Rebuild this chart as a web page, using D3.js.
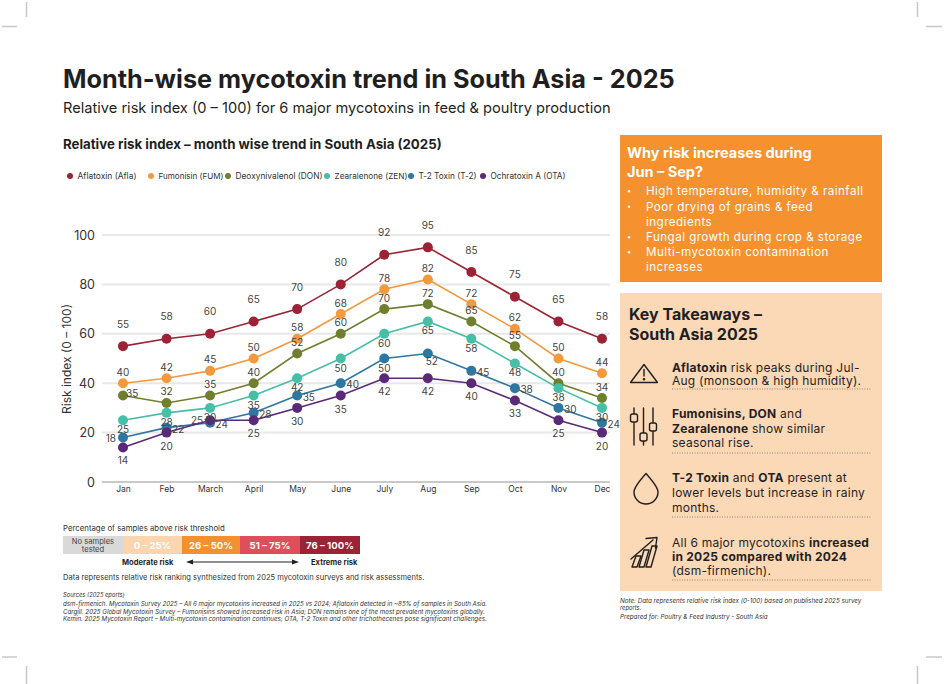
<!DOCTYPE html>
<html><head><meta charset="utf-8">
<script src="https://cdn.jsdelivr.net/npm/d3@7"></script>
<style>
body{margin:0;background:#fff}
svg{display:block}
text{font-family:Inter,"Noto Sans",sans-serif}
</style>
</head><body>
<svg id="c" width="944" height="684"></svg>
<script>
// ---------------- DATA ----------------
const months = ["Jan","Feb","March","April","May","June","July","Aug","Sep","Oct","Nov","Dec"];
const seriesNames = ["Aflatoxin (Afla)","Fumonisin (FUM)","Deoxynivalenol (DON)","Zearalenone (ZEN)","T-2 Toxin (T-2)","Ochratoxin A (OTA)"];
const afla = [55,58,60,65,70,80,92,95,85,75,65,58];
const fum  = [40,42,45,50,58,68,78,82,72,62,50,44];
const don  = [35,32,35,40,52,60,70,72,65,55,40,34];
const zen  = [25,28,30,35,42,50,60,65,58,48,38,30];
const t2   = [18,22,24,28,35,40,50,52,45,38,30,24];
const ota  = [14,20,25,25,30,35,42,42,40,33,25,20];
const yTicks = [0,20,40,60,80,100];
const bandLabels = ["No samples tested","0 – 25%","26 – 50%","51 – 75%","76 – 100%"];

// ---------------- STYLE / LAYOUT ----------------
const seriesValues = [afla,fum,don,zen,t2,ota];
const seriesColors = ["#9b2335","#f39a3e","#6f7f2e","#45bfa6","#2f76a0","#5a2a78"];
const bandColors = ["#d9d9d9","#fbd5b0","#f5902f","#dc4f5b","#9b2335"];
const defaultLabelPos = ["above2","above","above","below","right","below2"];
const labelOverrides = {"2-0":"rightTight","4-0":"left","5-2":"left","4-6":"below","4-7":"belowRight"};
const legendX = [70,151,228,327,411,483];
const legendW = [59,65,87,73,58,75];

const svg = d3.select("#c");
const dark = "#1f1f1f";

function fit(sel, w){
  const n = sel.node(); const fs = parseFloat(sel.attr("font-size"));
  const len = n.getComputedTextLength();
  if(len>0) sel.attr("font-size", fs*w/len);
  return sel;
}
function fitLS(sel, w){
  const n = sel.node();
  const len = n.getComputedTextLength();
  const chars = sel.text().length;
  const ls = (w-len)/Math.max(1,chars-1);
  sel.attr("letter-spacing", ls);
  return ls;
}

// crop marks
const cm = svg.append("g").attr("stroke","#c8c8c8").attr("stroke-width",1.5);
[[26.5,2,26.5,17],[2,26.5,17,26.5],[917.5,2,917.5,17],[926,26.5,942,26.5],
 [2,657,17,657],[26.5,666,26.5,684],[926,657,942,657],[917.5,666,917.5,684]].forEach(d=>{
  cm.append("line").attr("x1",d[0]).attr("y1",d[1]).attr("x2",d[2]).attr("y2",d[3]);
});

// titles
fit(svg.append("text").attr("x",63).attr("y",88).attr("font-size",25).attr("font-weight",700).attr("fill",dark)
  .text("Month-wise mycotoxin trend in South Asia - 2025"), 612);
fit(svg.append("text").attr("x",63).attr("y",113).attr("font-size",15).attr("fill",dark)
  .text("Relative risk index (0 – 100) for 6 major mycotoxins in feed & poultry production"), 548);
fit(svg.append("text").attr("x",63).attr("y",149).attr("font-size",14).attr("font-weight",700).attr("fill",dark)
  .text("Relative risk index – month wise trend in South Asia (2025)"), 379);

// legend
const lg = svg.append("g");
seriesNames.forEach((name,i)=>{
  lg.append("circle").attr("cx",legendX[i]).attr("cy",176).attr("r",3).attr("fill",seriesColors[i]);
  fit(lg.append("text").attr("x",legendX[i]+7.5).attr("y",179).attr("font-size",8.2).attr("fill","#333").text(name), legendW[i]);
});

// ---------------- CHART ----------------
const x = d3.scalePoint().domain(months).range([123,602]);
const y = d3.scaleLinear().domain([0,100]).range([482,235]);
const gridX0 = 102, gridX1 = 610;

const grid = svg.append("g");
yTicks.forEach(t=>{
  grid.append("line").attr("x1",gridX0).attr("x2",gridX1).attr("y1",y(t)).attr("y2",y(t))
    .attr("stroke", t===0 ? "#c9c9c9" : "#e8e8e8").attr("stroke-width",2);
});

const yAxis = svg.append("g").attr("transform","translate(95,0)")
  .call(d3.axisLeft(y).tickValues(yTicks).tickSize(0).tickPadding(0));
yAxis.select(".domain").remove();
yAxis.selectAll("text").attr("font-size",12.5).attr("fill","#333").attr("font-family","Inter,'Noto Sans',sans-serif");

const xAxis = svg.append("g").attr("transform","translate(0,486)")
  .call(d3.axisBottom(x).tickSize(0).tickPadding(0));
xAxis.select(".domain").remove();
xAxis.selectAll("text").attr("font-size",8.5).attr("fill","#333").attr("font-family","Inter,'Noto Sans',sans-serif");

svg.append("text").attr("transform","translate(71,359) rotate(-90)").attr("text-anchor","middle")
  .attr("font-size",12).attr("fill","#333").text("Risk index (0 – 100)");

const line = d3.line().x((d,i)=>x(months[i])).y(d=>y(d));
const lineG = svg.append("g");
seriesValues.forEach((vals,s)=>{
  lineG.append("path").attr("d",line(vals)).attr("fill","none").attr("stroke",seriesColors[s]).attr("stroke-width",1.6);
});
seriesValues.forEach((vals,s)=>{
  lineG.selectAll(null).data(vals).enter().append("circle")
    .attr("cx",(d,i)=>x(months[i])).attr("cy",d=>y(d)).attr("r",5).attr("fill",seriesColors[s]);
});
const labG = svg.append("g").attr("font-size",10).attr("fill","#444");
seriesValues.forEach((vals,s)=>{
  vals.forEach((v,i)=>{
    const pos = labelOverrides[s+"-"+i] || defaultLabelPos[s];
    const px = x(months[i]), py = y(v);
    let dx=0, dy=0, anchor="middle";
    if(pos==="above2"){dy=-18.5;}
    else if(pos==="above"){dy=-7.5;}
    else if(pos==="below"){dy=13;}
    else if(pos==="below2"){dy=17;}
    else if(pos==="right"){dx=5.5;dy=5;anchor="start";}
    else if(pos==="rightTight"){dx=3;dy=1;anchor="start";}
    else if(pos==="left"){dx=-7;dy=4;anchor="end";}
    else if(pos==="belowRight"){dx=4;dy=11;}
    labG.append("text").attr("x",px+dx).attr("y",py+dy).attr("text-anchor",anchor).text(v);
  });
});

// ---------------- THRESHOLD LEGEND ----------------
svg.append("text").attr("x",63).attr("y",531).attr("font-size",7.8).attr("fill","#333").text("Percentage of samples above risk threshold");
const bandX = [63,123,182,240,300,360];
bandLabels.forEach((lab,i)=>{
  svg.append("rect").attr("x",bandX[i]).attr("y",536).attr("width",bandX[i+1]-bandX[i]).attr("height",18).attr("fill",bandColors[i]);
  const cx = (bandX[i]+bandX[i+1])/2;
  if(i===0){
    svg.append("text").attr("x",cx).attr("y",543.5).attr("text-anchor","middle").attr("font-size",7.6).attr("fill","#444").text("No samples");
    svg.append("text").attr("x",cx).attr("y",551.5).attr("text-anchor","middle").attr("font-size",7.6).attr("fill","#444").text("tested");
  } else {
    svg.append("text").attr("x",cx).attr("y",548.5).attr("text-anchor","middle").attr("font-size",9.6).attr("font-weight",700).attr("fill","#fff").text(lab);
  }
});
svg.append("text").attr("x",122).attr("y",565).attr("font-size",7.6).attr("font-weight",700).attr("fill",dark).text("Moderate risk");
svg.append("text").attr("x",311).attr("y",565).attr("font-size",7.6).attr("font-weight",700).attr("fill",dark).text("Extreme risk");
svg.append("line").attr("x1",191).attr("x2",294).attr("y1",562).attr("y2",562).attr("stroke",dark).attr("stroke-width",1);
svg.append("path").attr("d","M186,562 L193,559.5 L193,564.5 Z").attr("fill",dark);
svg.append("path").attr("d","M299,562 L292,559.5 L292,564.5 Z").attr("fill",dark);
fit(svg.append("text").attr("x",63).attr("y",580).attr("font-size",8).attr("fill","#333")
  .text("Data represents relative risk ranking synthesized from 2025 mycotoxin surveys and risk assessments."), 362);

const srcLines = [
  ["Sources (2025 eports)", 597, null],
  ["dsm-firmenich. Mycotoxin Survey 2025 – All 6 major mycotoxins increased in 2025 vs 2024; Aflatoxin detected in ~85% of samples in South Asia.", 606, 425],
  ["Cargill. 2025 Global Mycotoxin Survey – Fumonisins showed increased risk in Asia; DON remains one of the most prevalent mycotoxins globally.", 613.5, 423],
  ["Kemin. 2025 Mycotoxin Report – Multi-mycotoxin contamination continues; OTA, T-2 Toxin and other trichothecenes pose significant challenges.", 621, 424]
];
srcLines.forEach(d=>{
  const t = svg.append("text").attr("x",63).attr("y",d[1]).attr("font-size",5.8).attr("font-style","italic").attr("fill","#333").text(d[0]);
  if(d[2]) fit(t,d[2]);
});

// ---------------- RIGHT PANELS ----------------
svg.append("rect").attr("x",620).attr("y",135).attr("width",262).attr("height",147).attr("fill","#f6912f");
const wt = fit(svg.append("text").attr("x",627).attr("y",158).attr("font-size",15).attr("font-weight",700).attr("fill","#fff").text("Why risk increases during"),185);
const wfs = wt.attr("font-size");
svg.append("text").attr("x",627).attr("y",177).attr("font-size",wfs).attr("font-weight",700).attr("fill","#fff").text("Jun – Sep?");
const bullets = [["High temperature, humidity & rainfall",195,true],["Poor drying of grains & feed",210.5,true],["ingredients",226,false],
  ["Fungal growth during crop & storage",241,true],["Multi-mycotoxin contamination",256,true],["increases",271,false]];
const b0 = svg.append("text").attr("x",646).attr("y",195).attr("font-size",11.6).attr("fill","#fff").text(bullets[0][0]);
const bls = fitLS(b0,217);
bullets.slice(1).forEach(b=>{
  svg.append("text").attr("x",646).attr("y",b[1]).attr("font-size",11.6).attr("letter-spacing",bls).attr("fill","#fff").text(b[0]);
});
bullets.forEach(b=>{ if(b[2]) svg.append("circle").attr("cx",629).attr("cy",b[1]-3.8).attr("r",1.2).attr("fill","#fff"); });

svg.append("rect").attr("x",620).attr("y",293).attr("width",262).attr("height",298).attr("fill","#fbd8b6");
const kt = fit(svg.append("text").attr("x",629).attr("y",320).attr("font-size",18).attr("font-weight",700).attr("fill",dark).text("Key Takeaways –"),133);
svg.append("text").attr("x",629).attr("y",340).attr("font-size",kt.attr("font-size")).attr("font-weight",700).attr("fill",dark).text("South Asia 2025");

const TFS = 12;
function richLine(xp, yp, parts, ls){
  const t = svg.append("text").attr("x",xp).attr("y",yp).attr("font-size",TFS).attr("fill",dark);
  if(ls!==undefined) t.attr("letter-spacing",ls);
  parts.forEach(p=>t.append("tspan").attr("font-weight",p[1]?700:400).text(p[0]));
  return t;
}
const tls = fitLS(richLine(672,385,[["Aug (monsoon & high humidity).",false]]),189);
richLine(672,371.5,[["Aflatoxin",true],[" risk peaks during Jul-",false]],tls);
richLine(672,418,[["Fumonisins, DON",true],[" and",false]],tls);
richLine(672,432.5,[["Zearalenone",true],[" show similar",false]],tls);
richLine(672,447,[["seasonal rise.",false]],tls);
richLine(672,482,[["T-2 Toxin",true],[" and ",false],["OTA",true],[" present at",false]],tls);
richLine(672,497,[["lower levels but increase in rainy",false]],tls);
richLine(672,512,[["months.",false]],tls);
richLine(672,547,[["All 6 major mycotoxins ",false],["increased",true]],tls);
richLine(672,561,[["in 2025 compared with 2024",true]],tls);
richLine(672,575,[["(dsm-firmenich).",false]],tls);
[389,453,517,580].forEach(yy=>{
  svg.append("line").attr("x1",672).attr("x2",872).attr("y1",yy).attr("y2",yy).attr("stroke","#8a7a6a").attr("stroke-width",0.9).attr("stroke-dasharray","1,1.5");
});

// icons
const ic = svg.append("g").attr("fill","none").attr("stroke",dark).attr("stroke-width",1.4).attr("stroke-linejoin","round").attr("stroke-linecap","round");
ic.append("path").attr("d","M644,364.5 L657.5,382.5 L630.5,382.5 Z");
ic.append("line").attr("x1",644).attr("x2",644).attr("y1",369.5).attr("y2",376);
ic.append("circle").attr("cx",644).attr("cy",379.2).attr("r",0.6).attr("fill",dark);
[[634,418],[643.5,437],[653,427]].forEach(k=>{
  ic.append("line").attr("x1",k[0]).attr("x2",k[0]).attr("y1",408).attr("y2",445);
  ic.append("rect").attr("x",k[0]-3.5).attr("y",k[1]-4).attr("width",7).attr("height",8).attr("rx",2).attr("fill","#fbd8b6");
});
ic.append("path").attr("d","M646,473.5 Q634,487 634,492 A12,12 0 0 0 658,492 Q658,487 646,473.5 Z");
// growth icon
ic.append("path").attr("d","M632,567 L636,556 L641,556 L637,567 Z");
ic.append("path").attr("d","M639,567 L644,550 L649,550 L644,567 Z");
ic.append("path").attr("d","M646,567 L652,546 L657,546 L651,567 Z");
ic.append("path").attr("d","M631,559 L653,540");
ic.append("path").attr("d","M646,538.5 L657,537.5 L655.5,548");

// note
const nt = [["Note: Data represents relative risk index (0-100) based on published 2025 survey",603,242],["reports.",610,null],["Prepared for: Poultry & Feed Industry - South Asia",619,148]];
nt.forEach(d=>{
  const t = svg.append("text").attr("x",620).attr("y",d[1]).attr("font-size",5.8).attr("font-style","italic").attr("fill","#333").text(d[0]);
  if(d[2]) fit(t,d[2]);
});
</script>
</body></html>
